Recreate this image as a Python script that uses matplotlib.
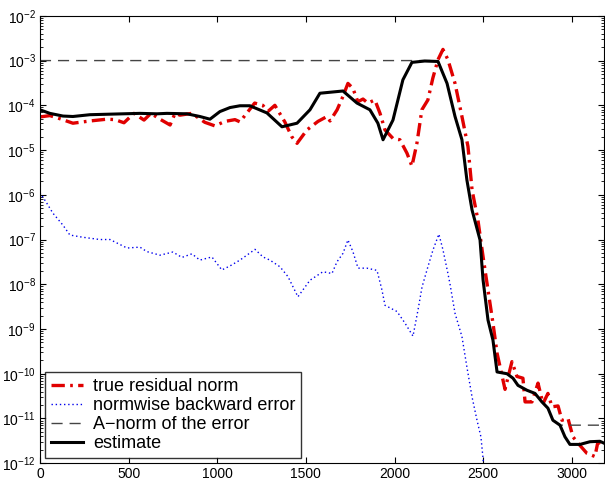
import numpy as np
import matplotlib
matplotlib.use("Agg")
import matplotlib.pyplot as plt
from matplotlib.ticker import LogLocator, NullFormatter

plt.rcParams['font.family'] = ['Liberation Sans', 'DejaVu Sans']
plt.rcParams['mathtext.fontset'] = 'custom'
plt.rcParams['mathtext.rm'] = 'Liberation Sans'
plt.rcParams['mathtext.it'] = 'Liberation Sans:italic'

# iteration numbers and log10 of the plotted quantities
est_x = [0, 56, 130, 186, 282, 564, 660, 716, 829, 902, 959, 1015, 1072, 1128,
         1184, 1280, 1365, 1450, 1523, 1579, 1709, 1788, 1861, 1906, 1935, 1991,
         2047, 2098, 2170, 2245, 2296, 2341, 2380, 2408, 2437, 2482, 2499, 2527,
         2555, 2578, 2634, 2668, 2696, 2747, 2792, 2831, 2865, 2893, 2933, 2961,
         2989, 3046, 3102, 3158, 3180]
est_log = [-4.10, -4.18, -4.24, -4.25, -4.21, -4.18, -4.19, -4.18, -4.19, -4.25,
           -4.31, -4.14, -4.05, -4.01, -4.01, -4.17, -4.48, -4.40, -4.10, -3.73,
           -3.68, -3.95, -4.10, -4.40, -4.77, -4.33, -3.43, -3.04, -3.01, -3.02,
           -3.51, -4.25, -4.77, -5.67, -6.34, -7.01, -7.90, -8.80, -9.25, -9.96,
           -10.00, -10.10, -10.26, -10.37, -10.44, -10.63, -10.77, -11.04, -11.15,
           -11.41, -11.58, -11.58, -11.52, -11.51, -11.55]

res_x = [0, 56, 113, 186, 282, 378, 423, 474, 530, 587, 626, 677, 734, 762, 790,
         857, 930, 987, 1043, 1100, 1128, 1211, 1257, 1285, 1325, 1381, 1420,
         1450, 1506, 1568, 1619, 1636, 1676, 1709, 1737, 1765, 1793, 1822, 1850,
         1889, 1918, 1946, 1991, 2030, 2070, 2098, 2126, 2154, 2188, 2216, 2245,
         2273, 2301, 2341, 2380, 2414, 2437, 2470, 2499, 2527, 2555, 2578, 2623,
         2662, 2690, 2724, 2736, 2775, 2809, 2837, 2865, 2888, 2922, 2944, 2978,
         3006, 3034, 3085, 3130, 3147, 3180]
res_log = [-4.26, -4.23, -4.30, -4.40, -4.35, -4.31, -4.32, -4.39, -4.18, -4.33,
           -4.18, -4.31, -4.44, -4.18, -4.22, -4.18, -4.38, -4.46, -4.36, -4.32,
           -4.37, -3.95, -4.00, -4.14, -4.00, -4.37, -4.70, -4.85, -4.55, -4.36,
           -4.25, -4.35, -4.10, -3.80, -3.51, -3.62, -3.92, -3.86, -3.95, -3.88,
           -4.18, -4.55, -4.74, -4.77, -5.07, -5.36, -4.85, -4.10, -3.88, -3.39,
           -2.98, -2.75, -2.98, -3.51, -4.25, -4.92, -5.89, -6.56, -7.38, -8.13,
           -8.87, -9.54, -10.35, -9.73, -10.06, -10.10, -10.63, -10.63, -10.21,
           -10.67, -10.44, -10.74, -10.72, -11.04, -11.00, -11.41, -11.55, -11.78,
           -11.85, -11.52, -11.60]

bwd_x = [0, 39, 73, 130, 169, 243, 338, 395, 491, 564, 603, 677, 750, 801, 857,
         902, 970, 1026, 1072, 1128, 1213, 1258, 1297, 1354, 1399, 1455, 1523,
         1596, 1647, 1675, 1709, 1737, 1765, 1794, 1844, 1901, 1929, 1946, 2014,
         2059, 2104, 2132, 2155, 2188, 2217, 2250, 2273, 2301, 2312, 2341, 2380,
         2408, 2437, 2465, 2487, 2499, 2505]
bwd_log = [-5.95, -6.19, -6.41, -6.68, -6.90, -6.95, -7.00, -7.00, -7.19, -7.17,
           -7.27, -7.35, -7.28, -7.40, -7.32, -7.46, -7.39, -7.68, -7.59, -7.46,
           -7.22, -7.39, -7.46, -7.61, -7.83, -8.28, -7.91, -7.72, -7.76, -7.50,
           -7.31, -7.01, -7.27, -7.64, -7.64, -7.69, -8.13, -8.47, -8.61, -8.87,
           -9.16, -8.58, -8.06, -7.61, -7.23, -6.88, -7.23, -7.76, -7.98, -8.65,
           -9.17, -9.85, -10.52, -11.04, -11.41, -11.89, -12.30]

anorm_x = [0, 2245, 2296, 2341, 2380, 2408, 2437, 2482, 2499, 2527, 2555, 2578,
           2634, 2668, 2696, 2747, 2792, 2831, 2865, 2893, 2933, 3180]
anorm_log = [-3.00, -3.00, -3.51, -4.25, -4.77, -5.67, -6.34, -7.01, -7.90, -8.80,
             -9.25, -9.96, -10.00, -10.10, -10.26, -10.37, -10.44, -10.63, -10.77,
             -11.04, -11.15, -11.15]

fig = plt.figure(figsize=(6.05, 4.8), dpi=100)
ax = fig.add_axes([0.066, 0.035, 0.932, 0.932])

ax.semilogy(res_x, np.power(10.0, res_log), color='#e00000', lw=2.4,
            ls=(0, (4, 1.6, 0.8, 1.6)), label='true residual norm')
ax.semilogy(bwd_x, np.power(10.0, bwd_log), color='#0000ee', lw=1.0,
            ls=(0, (1, 2)), label='normwise backward error')
ax.semilogy(anorm_x, np.power(10.0, anorm_log), color='#444444', lw=1.0,
            ls=(0, (8, 5)), label='A\u2212norm of the error')
ax.semilogy(est_x, np.power(10.0, est_log), color='black', lw=2.2,
            label='estimate')

ax.set_xlim(0, 3180)
ax.set_ylim(1e-12, 1e-2)
ax.set_xticks([0, 500, 1000, 1500, 2000, 2500, 3000])
ax.yaxis.set_major_locator(LogLocator(base=10, numticks=12))
ax.yaxis.set_minor_locator(LogLocator(base=10, subs=np.arange(2, 10), numticks=12))
ax.yaxis.set_minor_formatter(NullFormatter())
ax.tick_params(which='both', direction='in', top=True, right=True,
               labelsize=10, pad=3)
ax.tick_params(which='major', length=4)
ax.tick_params(which='minor', length=2)

leg = ax.legend(loc='lower left', fontsize=13, frameon=True, fancybox=False,
                edgecolor='black', borderaxespad=0.3, handlelength=1.8,
                labelspacing=0.12, borderpad=0.3, handletextpad=0.55)
leg.get_frame().set_linewidth(1.0)

fig.savefig('out.png', dpi=100)
